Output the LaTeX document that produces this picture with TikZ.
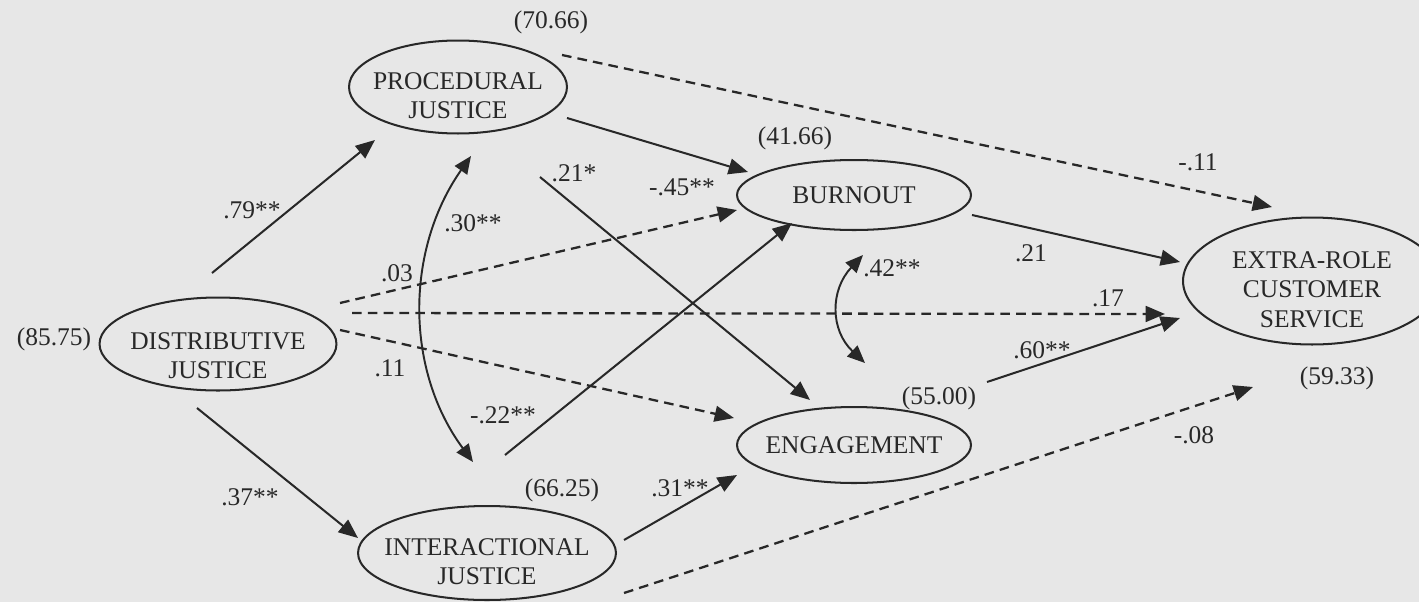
\documentclass[tikz,border=0pt]{standalone}
\usepackage{fontspec}
\setmainfont{Liberation Serif}
\usetikzlibrary{arrows.meta,shapes.geometric}
\definecolor{paper}{RGB}{231,231,231}
\definecolor{ink}{RGB}{40,40,40}
% text of a variable, lowered a little, with no width of its own
\newcommand{\vartext}[2][0.22cm]{\raisebox{-#1}[\height][\depth]{\makebox[0pt]{\begin{tabular}{@{}c@{}}#2\end{tabular}}}}
\begin{document}
\begin{tikzpicture}[x = 0.02cm, y = -0.02cm,
        every node/.style = {font = \fontsize{14.5}{17}\selectfont, text = ink},
        latent/.style = {ellipse, draw = ink, line width = 1.15pt, inner sep = 0pt},
        effect/.style = {draw = ink, line width = 1.15pt, -{Triangle[length = 11pt, width = 9pt]}},
        nseffect/.style = {effect, line width = 1.3pt, dash pattern = on 5.5pt off 3.5pt},
        covary/.style = {draw = ink, line width = 1.1pt, {Triangle[length = 10pt, width = 8.5pt]}-{Triangle[length = 10pt, width = 8.5pt]}}]
    \useasboundingbox (0,0) rectangle (1419,602);
    \fill[paper] (0,0) rectangle (1419,602);
    \begin{scope}
        \node[latent, minimum width = 4.74cm, minimum height = 1.86cm] (distr) at (218,344) {\vartext[0.28cm]{DISTRIBUTIVE\\JUSTICE}};
        \node[latent, minimum width = 4.36cm, minimum height = 1.86cm] (proc) at (458,87) {\vartext{PROCEDURAL\\JUSTICE}};
        \node[latent, minimum width = 5.16cm, minimum height = 1.88cm] (inter) at (487,553) {\vartext{INTERACTIONAL\\JUSTICE}};
        \node[latent, minimum width = 4.68cm, minimum height = 1.40cm] (burn) at (854,195) {\makebox[0pt]{BURNOUT}};
        \node[latent, minimum width = 4.68cm, minimum height = 1.52cm] (eng) at (854,445) {\makebox[0pt]{ENGAGEMENT}};
        \node[latent, minimum width = 5.16cm, minimum height = 2.54cm] (extra) at (1312,281) {\vartext{EXTRA-ROLE\\CUSTOMER\\SERVICE}};
    \end{scope}
    % explained variance
    \node (vproc) at (551,22) {(70.66)};
    \node (vburn) at (795,138) {(41.66)};
    \node (vdistr) at (54,339) {(85.75)};
    \node (vinter) at (562,490) {(66.25)};
    \node (veng) at (939,398) {(55.00)};
    \node (vextra) at (1337,378) {(59.33)};
    % paths
    \draw[effect] ([shift = {(-6,-71)}]distr.center) -- ([shift = {(-83,53)}]proc.center);
    \draw[effect] ([shift = {(-21,64)}]distr.center) -- ([shift = {(-129,-15)}]inter.center);
    \draw[effect] ([shift = {(82,90)}]proc.center) -- ([shift = {(-44,-45)}]eng.center);
    \draw[effect] ([shift = {(109,31)}]proc.center) -- ([shift = {(-106,-23)}]burn.center);
    \draw[effect] ([shift = {(18,-98)}]inter.center) -- ([shift = {(-62,28)}]burn.center);
    \draw[effect] ([shift = {(137,-13)}]inter.center) -- ([shift = {(-117,30)}]eng.center);
    \draw[effect] ([shift = {(118,20)}]burn.center) -- ([shift = {(-132,-19)}]extra.center);
    \draw[effect] ([shift = {(133,-63)}]eng.center) -- ([shift = {(-132,37)}]extra.center);
    \draw[nseffect] ([shift = {(122,-41)}]distr.center) -- ([shift = {(-117,15)}]burn.center);
    \draw[nseffect] ([shift = {(134,-31)}]distr.center) -- ([shift = {(-147,33)}]extra.center);
    \draw[nseffect] ([shift = {(122,-14)}]distr.center) -- ([shift = {(-120,-27)}]eng.center);
    \draw[nseffect] ([shift = {(104,-32)}]proc.center) -- ([shift = {(-40,-74)}]extra.center);
    \draw[nseffect] ([shift = {(137,40)}]inter.center) -- ([shift = {(-59,106)}]extra.center);
    \draw[covary] ([shift = {(13,69)}]proc.center) .. controls +(-66,94) and +(-68,-92) .. ([shift = {(-14,-91)}]inter.center);
    \draw[covary] ([shift = {(9,60)}]burn.center) .. controls +(-33,35) and +(-35,-33) .. ([shift = {(11,-82)}]eng.center);
    % coefficients
    \node (c79) at (252,210) {.79**};
    \node (c37) at (250,497) {.37**};
    \node (c30) at (473,223) {.30**};
    \node (c21a) at (574,173) {.21*};
    \node (cm45) at (682,187) {-.45**};
    \node (c03) at (397,273) {.03};
    \node (c11) at (390,368) {.11};
    \node (cm22) at (503,415) {-.22**};
    \node (c31) at (680,488) {.31**};
    \node (c42) at (892,268) {.42**};
    \node (c21b) at (1031,253) {.21};
    \node (c17) at (1108,298) {.17};
    \node (cm11) at (1198,162) {-.11};
    \node (c60) at (1042,350) {.60**};
    \node (cm08) at (1194,435) {-.08};
\end{tikzpicture}
\end{document}
